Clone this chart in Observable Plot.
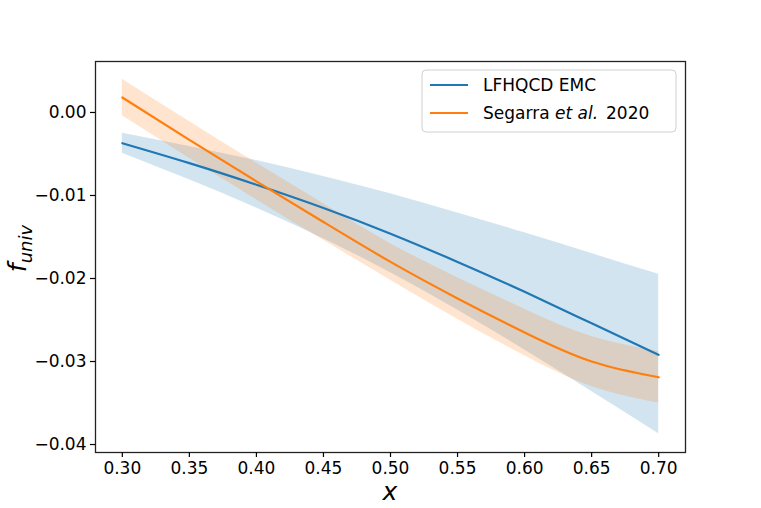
<!DOCTYPE html>
<html>
<head>
<meta charset="utf-8">
<script src="https://cdn.jsdelivr.net/npm/d3@7"></script>
<script src="https://cdn.jsdelivr.net/npm/@observablehq/plot@0.6"></script>
<style>
  html, body { margin: 0; padding: 0; background: white; }
  #chart { width: 761px; height: 508px; }
</style>
</head>
<body>
<div id="chart"></div>
<script>
// ---- data ----
const xValues = [0.30, 0.35, 0.40, 0.45, 0.50, 0.55, 0.60, 0.65, 0.70];

const emcMid = [-0.0037, -0.0061, -0.0087, -0.0115, -0.0146, -0.0180, -0.0216, -0.0254, -0.0292];
const emcHi  = [-0.0025, -0.0041, -0.0058, -0.0077, -0.0098, -0.0121, -0.0145, -0.0170, -0.0195];
const emcLo  = [-0.0049, -0.0081, -0.0115, -0.0152, -0.0193, -0.0238, -0.0286, -0.0336, -0.0387];

const segMid = [ 0.0018, -0.0033, -0.0083, -0.0132, -0.0180, -0.0224, -0.0265, -0.0300, -0.0319];
const segHi  = [ 0.0040, -0.0011, -0.0061, -0.0110, -0.0158, -0.0199, -0.0237, -0.0270, -0.0288];
const segLo  = [-0.0004, -0.0055, -0.0105, -0.0154, -0.0202, -0.0249, -0.0293, -0.0330, -0.0350];

const xTicks = [0.30, 0.35, 0.40, 0.45, 0.50, 0.55, 0.60, 0.65, 0.70];
const yTicks = [0.00, -0.01, -0.02, -0.03, -0.04];

const seriesNames = ["LFHQCD EMC", "Segarra et al. 2020"];
const seriesColors = ["#1f77b4", "#ff7f0e"];

// ---- tables ----
const emc = xValues.map((x, i) => ({x, mid: emcMid[i], lo: emcLo[i], hi: emcHi[i]}));
const seg = xValues.map((x, i) => ({x, mid: segMid[i], lo: segLo[i], hi: segHi[i]}));

const W = 761, H = 508;
const mL = 95, mR = 76, mT = 61, mB = 56;
const FONT = "DejaVu Sans";
const FS = 17;
const fmt = d3.format(".2f");

const plot = Plot.plot({
  width: W,
  height: H,
  marginLeft: mL,
  marginRight: mR,
  marginTop: mT,
  marginBottom: mB,
  style: {fontFamily: FONT, fontSize: FS + "px", color: "black", background: "white"},
  x: {domain: [0.28, 0.72], label: null},
  y: {domain: [-0.04096, 0.00614], label: null},
  marks: [
    Plot.areaY(emc, {x: "x", y1: "lo", y2: "hi", fill: seriesColors[0], fillOpacity: 0.2, curve: "natural"}),
    Plot.areaY(seg, {x: "x", y1: "lo", y2: "hi", fill: seriesColors[1], fillOpacity: 0.2, curve: "natural"}),
    Plot.line(emc, {x: "x", y: "mid", stroke: seriesColors[0], strokeWidth: 2.2, curve: "natural"}),
    Plot.line(seg, {x: "x", y: "mid", stroke: seriesColors[1], strokeWidth: 2.2, curve: "natural"}),
    Plot.frame({stroke: "#222", strokeWidth: 1.3}),
    Plot.axisX({ticks: xTicks, tickFormat: fmt, tickSize: 5, tickPadding: 4, label: null, fontSize: FS, strokeWidth: 1.2}),
    Plot.axisY({ticks: yTicks, tickFormat: fmt, tickSize: 5, tickPadding: 4, label: null, fontSize: FS, strokeWidth: 1.2})
  ]
});

document.getElementById("chart").appendChild(plot);

// ---- axis labels and legend drawn into the same SVG ----
const svg = d3.select(plot);
const frameL = mL, frameR = W - mR, frameT = mT, frameB = H - mB;

// x label
svg.append("text")
  .attr("x", (frameL + frameR) / 2)
  .attr("y", 500)
  .attr("text-anchor", "middle")
  .attr("font-family", FONT)
  .attr("font-style", "italic")
  .attr("font-size", 25)
  .text("x");

// y label f_univ
const yl = svg.append("text")
  .attr("transform", `translate(26,${(frameT + frameB) / 2 - 8}) rotate(-90)`)
  .attr("text-anchor", "middle")
  .attr("font-family", FONT)
  .attr("font-style", "italic")
  .attr("font-size", 25);
yl.append("tspan").text("f");
yl.append("tspan").attr("font-size", 18).attr("dy", 6).text("univ");

// legend
const lgX = 422, lgY = 70, lgW = 254, lgH = 62;
const lg = svg.append("g").attr("text-anchor", "start");
lg.append("rect")
  .attr("x", lgX).attr("y", lgY).attr("width", lgW).attr("height", lgH)
  .attr("rx", 4).attr("fill", "white").attr("fill-opacity", 0.8)
  .attr("stroke", "#d0d0d0").attr("stroke-width", 1);
seriesNames.forEach((name, i) => {
  const cy = lgY + 15 + i * 28;
  lg.append("line")
    .attr("x1", lgX + 8).attr("x2", lgX + 46)
    .attr("y1", cy).attr("y2", cy)
    .attr("stroke", seriesColors[i]).attr("stroke-width", 2.2);
  const t = lg.append("text")
    .attr("x", lgX + 61).attr("y", cy)
    .attr("dy", "0.36em")
    .attr("text-anchor", "start")
    .attr("font-family", FONT).attr("font-size", FS);
  if (i === 1) {
    const parts = name.split(" ");
    t.append("tspan").text(parts[0] + " ");
    t.append("tspan").attr("font-style", "italic").text(parts[1] + " " + parts[2]);
    t.append("tspan").attr("dx", 8).text(parts[3]);
  } else {
    t.text(name);
  }
});
</script>
</body>
</html>
